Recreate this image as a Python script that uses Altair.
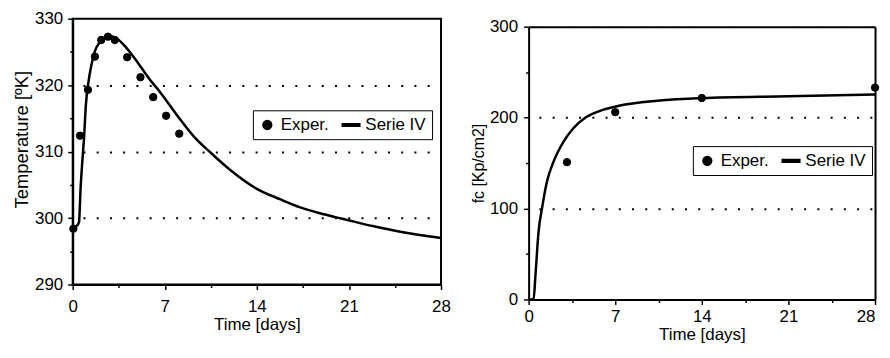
import altair as alt
import pandas as pd

# ---- Left panel: temperature ----
temp_exp_days = [0.05, 0.56, 1.16, 1.69, 2.17, 2.68, 3.2, 4.14, 5.15, 6.12, 7.1, 8.1]
temp_exp_vals = [298.4, 312.4, 319.3, 324.3, 326.8, 327.3, 326.8, 324.2, 321.2, 318.2, 315.4, 312.7]

temp_fit_days = [0, 0.3, 0.48, 0.6, 0.73, 0.86, 1.0, 1.2, 1.4, 1.7, 2.0, 2.3, 2.75, 3.3,
                 4.0, 4.8, 5.8, 6.5, 7.0, 8.0, 9.2, 10.45, 12.0, 14.0, 15.8, 17.3, 19.0,
                 20.5, 22.8, 25.0, 28.0]
temp_fit_vals = [298.4, 298.8, 299.4, 304.5, 308.5, 312.0, 317.0, 320.5, 322.8, 325.2, 326.3,
                 327.0, 327.4, 327.1, 325.8, 323.8, 321.0, 319.3, 318.0, 315.3, 312.3, 309.9,
                 307.2, 304.4, 302.8, 301.6, 300.6, 299.9, 298.8, 297.9, 297.0]

# ---- Right panel: strength ----
fc_exp_days = [3.1, 7.0, 14.0, 28.0]
fc_exp_vals = [151, 206, 221.5, 233]

fc_fit_days = [0, 0.4, 0.55, 0.8, 1.08, 1.47, 2.0, 2.8, 3.6, 4.6, 6.0, 7.3, 10.4, 14.0, 21.0, 28.0]
fc_fit_vals = [0, 0, 26, 74, 100, 129, 151, 173, 188, 200, 208.5, 213, 218.5, 221.5, 223.5, 225.5]

series_names = ["Exper.", "Serie IV"]
x_ticks = [0, 3.5, 7, 10.5, 14, 17.5, 21, 24.5, 28]
temp_ticks = [290, 295, 300, 305, 310, 315, 320, 325, 330]
fc_ticks = [0, 50, 100, 150, 200, 250, 300]

FONT = "Liberation Sans"
LINE_SYMBOL = "M-2.2,-0.3L1.8,-0.3L1.8,0.3L-2.2,0.3Z"
DOTS = [2, 11.3]


def x_axis(label_padding, title_padding, framed):
    kw = dict(
        values=x_ticks,
        labelExpr="datum.value % 7 === 0 ? datum.label : ''",
        tickSize={"condition": {"test": "datum.value % 7 === 0", "value": 5}, "value": 3},
        labelPadding=label_padding,
        titlePadding=title_padding,
        labelFlush=False,
        grid=False,
    )
    if framed:
        kw["labelAlign"] = {"condition": {"test": "datum.value === 28", "value": "right"}, "value": "center"}
    return alt.Axis(**kw)


def make_panel(exp_d, exp_v, fit_d, fit_v, ytitle, ydomain, yticks, major, w, h,
               legx, legy, xlp, xtp, ylp, ytp, ytitle_size, title_y=None,
               framed=False, yrange=None):
    exp_df = pd.DataFrame({"t": exp_d, "v": exp_v, "s": "Exper."})
    fit_df = pd.DataFrame({"t": fit_d, "v": fit_v, "s": "Serie IV"})
    lo, hi = ydomain
    if framed:
        grid_test = f"datum.value % {major} === 0 && datum.value > {lo}"
        grid_dash = {"condition": {"test": f"datum.value === {hi}", "value": [1, 0]}, "value": DOTS}
    else:
        grid_test = f"datum.value % {major} === 0 && datum.value > {lo} && datum.value < {hi}"
        grid_dash = DOTS
    yaxis_kwargs = dict(
        values=yticks,
        labelExpr=f"datum.value % {major} === 0 ? datum.label : ''",
        tickSize={"condition": {"test": f"datum.value % {major} === 0", "value": 5}, "value": 3},
        grid=True,
        gridDash=grid_dash,
        gridDashOffset=3,
        gridWidth=2,
        gridColor="black",
        gridOpacity={"condition": {"test": grid_test, "value": 1}, "value": 0},
        labelPadding=ylp,
        titlePadding=ytp,
        titleFontSize=ytitle_size,
        labelFlush=False,
    )
    if title_y is not None:
        yaxis_kwargs["titleY"] = title_y
    yscale_kw = dict(domain=list(ydomain), nice=False, zero=False)
    if yrange is not None:
        yscale_kw["range"] = yrange
    xenc = alt.X("t:Q", scale=alt.Scale(domain=[0, 28], nice=False),
                 axis=x_axis(xlp, xtp, framed), title="Time [days]")
    yenc = alt.Y("v:Q", scale=alt.Scale(**yscale_kw),
                 axis=alt.Axis(**yaxis_kwargs), title=ytitle)
    if framed:
        # right-hand frame edge: a bare right axis on the same mapping
        yenc_pts = alt.Y("v:Q", scale=alt.Scale(**yscale_kw),
                         axis=alt.Axis(orient="right", labels=False, ticks=False, grid=False,
                                       title=None, domainColor="black", domainWidth=2))
    else:
        yenc_pts = yenc
    line = alt.Chart(fit_df).mark_line(color="black", strokeWidth=2.5, interpolate="monotone").encode(
        x=xenc, y=yenc)
    pts = alt.Chart(exp_df).mark_point(filled=True, fill="black", stroke="black", strokeWidth=1,
                                       size=55, opacity=1).encode(
        x=xenc, y=yenc_pts,
        shape=alt.Shape("s:N",
                        scale=alt.Scale(domain=series_names, range=["circle", LINE_SYMBOL]),
                        legend=alt.Legend(
                            orient="none", legendX=legx, legendY=legy,
                            direction="horizontal", title=None,
                            strokeColor="black", padding=6,
                            labelFont=FONT, labelFontSize=17, labelColor="black",
                            symbolSize=78, symbolFillColor="black",
                            labelOffset=5, columnPadding=9,
                        )),
    )
    view = alt.ViewBackground(stroke="transparent") if framed else alt.ViewBackground(stroke="black", strokeWidth=2)
    layered = alt.layer(line, pts)
    if framed:
        layered = layered.resolve_scale(y="independent")
    return layered.properties(width=w, height=h, view=view)


left = make_panel(temp_exp_days, temp_exp_vals, temp_fit_days, temp_fit_vals,
                  "Temperature [ºK]", (290, 330), temp_ticks, 10, 370, 267,
                  181, 92, 9, 2, 5, 3, 18.5, title_y=121)
right = make_panel(fc_exp_days, fc_exp_vals, fc_fit_days, fc_fit_vals,
                   "fc [Kp/cm2]", (0, 300), fc_ticks, 100, 348, 282,
                   165, 128, 4, 2, 6, 3, 16, framed=True, yrange=[282, 8])

chart = alt.hconcat(left, right, spacing=18).resolve_scale(
    shape="independent"
).resolve_legend(
    shape="independent"
).properties(
    padding={"left": 3, "top": 0, "right": 0, "bottom": 0},
    background="white",
).configure_axis(
    domainColor="black", domainWidth=2, tickColor="black", tickWidth=1.5,
    labelFont=FONT, labelFontSize=17, labelColor="black",
    titleFont=FONT, titleFontSize=17, titleColor="black", titleFontWeight="normal",
)

chart.save("out.html", embed_options={"renderer": "svg", "actions": False})
